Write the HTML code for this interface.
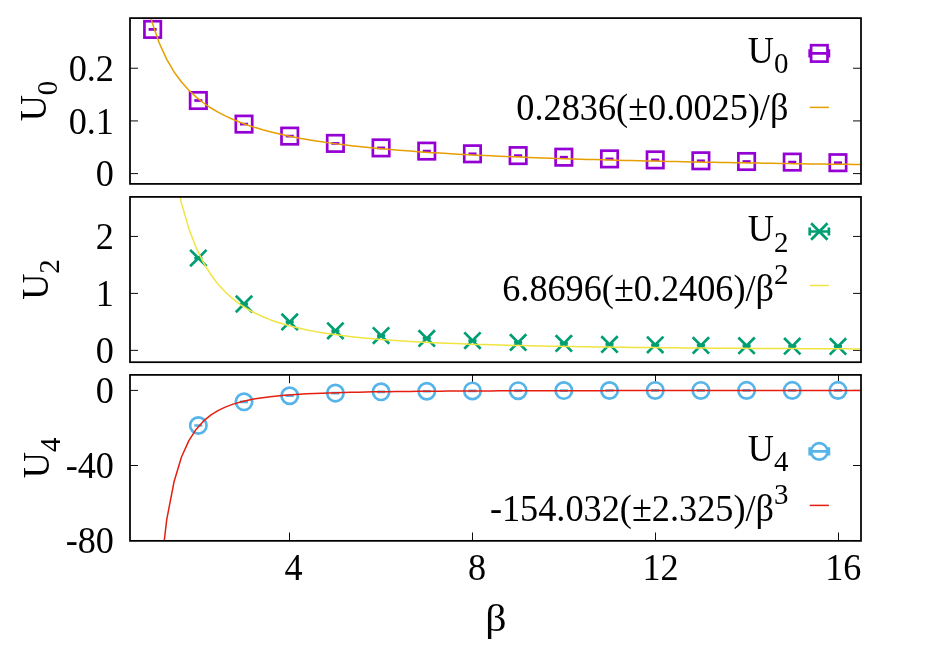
<!DOCTYPE html>
<html lang="en">
<head>
<meta charset="utf-8">
<title>U0, U2, U4 versus beta</title>
<style>
html,body{margin:0;padding:0;background:#fff;}
body{width:926px;height:649px;overflow:hidden;}
svg{display:block;will-change:transform;}
svg text{font-family:"Liberation Serif",serif;font-size:37.33px;fill:#000;}
svg text.s{font-size:29.87px;}
</style>
</head>
<body>
<svg width="926" height="649" viewBox="0 0 926 649">
<rect width="926" height="649" fill="#fff"/>
<defs>
<clipPath id="c0"><rect x="130.0" y="18.1" width="731.00" height="165.80"/></clipPath>
<clipPath id="c1"><rect x="130.0" y="196.9" width="731.00" height="165.30"/></clipPath>
<clipPath id="c2"><rect x="130.0" y="374.9" width="731.00" height="165.95"/></clipPath>
</defs>
<path d="M130.00 173.60h8.0M861.00 173.60h-8.0M130.00 120.92h8.0M861.00 120.92h-8.0M130.00 68.24h8.0M861.00 68.24h-8.0" stroke="#000" stroke-width="0.95" fill="none"/>
<g clip-path="url(#c0)">
<g fill="none" stroke="#9400d3" stroke-width="2.7">
<rect x="144.44" y="21.20" width="16.40" height="16.40"/><path d="M148.59 29.40H156.69"/>
<rect x="190.13" y="92.30" width="16.40" height="16.40"/><path d="M194.28 100.50H202.38"/>
<rect x="235.82" y="115.90" width="16.40" height="16.40"/><path d="M239.97 124.10H248.07"/>
<rect x="281.51" y="127.90" width="16.40" height="16.40"/><path d="M285.66 136.10H293.76"/>
<rect x="327.19" y="135.20" width="16.40" height="16.40"/><path d="M331.34 143.40H339.44"/>
<rect x="372.88" y="139.70" width="16.40" height="16.40"/><path d="M377.03 147.90H385.13"/>
<rect x="418.57" y="142.90" width="16.40" height="16.40"/><path d="M422.72 151.10H430.82"/>
<rect x="464.26" y="145.60" width="16.40" height="16.40"/><path d="M468.41 153.80H476.51"/>
<rect x="509.94" y="147.40" width="16.40" height="16.40"/><path d="M514.09 155.60H522.19"/>
<rect x="555.63" y="149.00" width="16.40" height="16.40"/><path d="M559.78 157.20H567.88"/>
<rect x="601.32" y="150.70" width="16.40" height="16.40"/><path d="M605.47 158.90H613.57"/>
<rect x="647.01" y="151.70" width="16.40" height="16.40"/><path d="M651.16 159.90H659.26"/>
<rect x="692.69" y="152.60" width="16.40" height="16.40"/><path d="M696.84 160.80H704.94"/>
<rect x="738.38" y="153.30" width="16.40" height="16.40"/><path d="M742.53 161.50H750.63"/>
<rect x="784.07" y="153.90" width="16.40" height="16.40"/><path d="M788.22 162.10H796.32"/>
<rect x="829.76" y="154.50" width="16.40" height="16.40"/><path d="M833.91 162.70H842.01"/>
</g>
<polyline points="129.80,-125.20 137.18,-52.21 144.57,-7.88 151.95,21.90 159.34,43.29 166.72,59.39 174.10,71.95 181.49,82.02 188.87,90.27 196.25,97.16 203.64,103.00 211.02,108.01 218.41,112.36 225.79,116.16 233.17,119.52 240.56,122.51 247.94,125.19 255.33,127.59 262.71,129.78 270.09,131.76 277.48,133.57 284.86,135.23 292.24,136.76 299.63,138.17 307.01,139.48 314.40,140.70 321.78,141.83 329.16,142.88 336.55,143.87 343.93,144.80 351.32,145.67 358.70,146.49 366.08,147.26 373.47,147.99 380.85,148.68 388.23,149.33 395.62,149.95 403.00,150.54 410.39,151.10 417.77,151.64 425.15,152.15 432.54,152.64 439.92,153.10 447.31,153.54 454.69,153.97 462.07,154.38 469.46,154.77 476.84,155.15 484.22,155.51 491.61,155.85 498.99,156.19 506.38,156.51 513.76,156.82 521.14,157.12 528.53,157.41 535.91,157.69 543.29,157.96 550.68,158.22 558.06,158.47 565.45,158.71 572.83,158.95 580.21,159.18 587.60,159.40 594.98,159.61 602.37,159.82 609.75,160.02 617.13,160.22 624.52,160.41 631.90,160.60 639.28,160.78 646.67,160.95 654.05,161.12 661.44,161.29 668.82,161.45 676.20,161.61 683.59,161.76 690.97,161.91 698.36,162.06 705.74,162.20 713.12,162.34 720.51,162.48 727.89,162.61 735.27,162.74 742.66,162.86 750.04,162.99 757.43,163.11 764.81,163.22 772.19,163.34 779.58,163.45 786.96,163.56 794.35,163.67 801.73,163.78 809.11,163.88 816.50,163.98 823.88,164.08 831.26,164.18 838.65,164.27 846.03,164.36 853.42,164.46 860.80,164.55" fill="none" stroke="#e69f00" stroke-width="1.5" stroke-linejoin="round"/>
</g>
<g fill="none" stroke="#9400d3" stroke-width="2.7"><rect x="811.10" y="45.20" width="16.40" height="16.40"/><path d="M809.70 53.40H828.90M809.70 49.35V57.45M828.90 49.35V57.45"/></g>
<path d="M809.7 107.40H828.9" stroke="#e69f00" stroke-width="1.5" fill="none"/>
<text transform="translate(774.00 62.50) scale(0.97 1)" text-anchor="end">U</text>
<text transform="translate(774.00 73.40) scale(0.97 1)" class="s">0</text>
<text transform="translate(788.40 120.05)" text-anchor="end" textLength="272.10" lengthAdjust="spacingAndGlyphs">0.2836(±0.0025)/β</text>
<text transform="translate(113.90 186.30) scale(0.97 1)" text-anchor="end">0</text>
<text transform="translate(113.90 133.62) scale(0.97 1)" text-anchor="end">0.1</text>
<text transform="translate(113.90 80.94) scale(0.97 1)" text-anchor="end">0.2</text>
<text transform="translate(46.00 121.30) rotate(-90) scale(0.97 1)">U</text>
<text transform="translate(56.80 95.16) rotate(-90) scale(0.97 1)" class="s">0</text>
<rect x="130.0" y="18.1" width="731.00" height="165.80" fill="none" stroke="#000" stroke-width="1.75"/>
<path d="M130.00 350.35h8.0M861.00 350.35h-8.0M130.00 293.40h8.0M861.00 293.40h-8.0M130.00 236.45h8.0M861.00 236.45h-8.0" stroke="#000" stroke-width="0.95" fill="none"/>
<g clip-path="url(#c1)">
<g fill="none" stroke="#009e73" stroke-width="2.7">
<path d="M190.13 249.90L206.53 266.30M190.13 266.30L206.53 249.90"/><path d="M194.28 258.10H202.38"/>
<path d="M235.82 295.80L252.22 312.20M235.82 312.20L252.22 295.80"/><path d="M239.97 304.00H248.07"/>
<path d="M281.51 313.75L297.91 330.15M281.51 330.15L297.91 313.75"/><path d="M285.66 321.95H293.76"/>
<path d="M327.19 322.60L343.59 339.00M327.19 339.00L343.59 322.60"/><path d="M331.34 330.80H339.44"/>
<path d="M372.88 327.35L389.28 343.75M372.88 343.75L389.28 327.35"/><path d="M377.03 335.55H385.13"/>
<path d="M418.57 330.20L434.97 346.60M418.57 346.60L434.97 330.20"/><path d="M422.72 338.40H430.82"/>
<path d="M464.26 332.40L480.66 348.80M464.26 348.80L480.66 332.40"/><path d="M468.41 340.60H476.51"/>
<path d="M509.94 334.20L526.34 350.60M509.94 350.60L526.34 334.20"/><path d="M514.09 342.40H522.19"/>
<path d="M555.63 335.20L572.03 351.60M555.63 351.60L572.03 335.20"/><path d="M559.78 343.40H567.88"/>
<path d="M601.32 336.20L617.72 352.60M601.32 352.60L617.72 336.20"/><path d="M605.47 344.40H613.57"/>
<path d="M647.01 336.65L663.41 353.05M647.01 353.05L663.41 336.65"/><path d="M651.16 344.85H659.26"/>
<path d="M692.69 337.20L709.09 353.60M692.69 353.60L709.09 337.20"/><path d="M696.84 345.40H704.94"/>
<path d="M738.38 337.50L754.78 353.90M738.38 353.90L754.78 337.50"/><path d="M742.53 345.70H750.63"/>
<path d="M784.07 337.95L800.47 354.35M784.07 354.35L800.47 337.95"/><path d="M788.22 346.15H796.32"/>
<path d="M829.76 338.25L846.16 354.65M829.76 354.65L846.16 338.25"/><path d="M833.91 346.45H842.01"/>
</g>
<polyline points="129.80,-1214.54 137.18,-543.39 144.57,-226.92 151.95,-53.00 159.34,52.70 166.72,121.71 174.10,169.23 181.49,203.34 188.87,228.65 196.25,247.94 203.64,262.99 211.02,274.94 218.41,284.61 225.79,292.52 233.17,299.09 240.56,304.60 247.94,309.27 255.33,313.25 262.71,316.69 270.09,319.67 277.48,322.27 284.86,324.55 292.24,326.56 299.63,328.35 307.01,329.95 314.40,331.37 321.78,332.65 329.16,333.81 336.55,334.86 343.93,335.81 351.32,336.67 358.70,337.46 366.08,338.19 373.47,338.85 380.85,339.46 388.23,340.03 395.62,340.55 403.00,341.03 410.39,341.48 417.77,341.90 425.15,342.28 432.54,342.65 439.92,342.98 447.31,343.30 454.69,343.60 462.07,343.87 469.46,344.14 476.84,344.38 484.22,344.61 491.61,344.83 498.99,345.04 506.38,345.23 513.76,345.42 521.14,345.59 528.53,345.76 535.91,345.91 543.29,346.06 550.68,346.20 558.06,346.34 565.45,346.47 572.83,346.59 580.21,346.70 587.60,346.82 594.98,346.92 602.37,347.02 609.75,347.12 617.13,347.21 624.52,347.30 631.90,347.39 639.28,347.47 646.67,347.55 654.05,347.62 661.44,347.69 668.82,347.76 676.20,347.83 683.59,347.89 690.97,347.96 698.36,348.02 705.74,348.07 713.12,348.13 720.51,348.18 727.89,348.23 735.27,348.28 742.66,348.33 750.04,348.38 757.43,348.42 764.81,348.46 772.19,348.50 779.58,348.54 786.96,348.58 794.35,348.62 801.73,348.66 809.11,348.69 816.50,348.73 823.88,348.76 831.26,348.79 838.65,348.82 846.03,348.85 853.42,348.88 860.80,348.91" fill="none" stroke="#f0e442" stroke-width="1.5" stroke-linejoin="round"/>
</g>
<g fill="none" stroke="#009e73" stroke-width="2.7"><path d="M811.10 223.30L827.50 239.70M811.10 239.70L827.50 223.30"/><path d="M809.70 231.50H828.90M809.70 227.45V235.55M828.90 227.45V235.55"/></g>
<path d="M809.7 285.50H828.9" stroke="#f0e442" stroke-width="1.5" fill="none"/>
<text transform="translate(774.00 240.60) scale(0.97 1)" text-anchor="end">U</text>
<text transform="translate(774.00 251.50) scale(0.97 1)" class="s">2</text>
<text transform="translate(774.00 301.40)" text-anchor="end" textLength="271.80" lengthAdjust="spacingAndGlyphs">6.8696(±0.2406)/β</text>
<text transform="translate(774.00 283.90) scale(0.97 1)" class="s">2</text>
<text transform="translate(113.90 363.05) scale(0.97 1)" text-anchor="end">0</text>
<text transform="translate(113.90 306.10) scale(0.97 1)" text-anchor="end">1</text>
<text transform="translate(113.90 249.15) scale(0.97 1)" text-anchor="end">2</text>
<text transform="translate(48.10 299.85) rotate(-90) scale(0.97 1)">U</text>
<text transform="translate(58.90 273.71) rotate(-90) scale(0.97 1)" class="s">2</text>
<rect x="130.0" y="196.9" width="731.00" height="165.30" fill="none" stroke="#000" stroke-width="1.75"/>
<path d="M130.00 390.40h8.0M861.00 390.40h-8.0M130.00 465.50h8.0M861.00 465.50h-8.0M130.00 540.60h8.0M861.00 540.60h-8.0M289.50 540.85v-8.35M289.50 374.90v8.35M472.50 540.85v-8.35M472.50 374.90v8.35M655.50 540.85v-8.35M655.50 374.90v8.35M838.50 540.85v-8.35M838.50 374.90v8.35" stroke="#000" stroke-width="0.95" fill="none"/>
<g clip-path="url(#c2)">
<g fill="none" stroke="#56b4e9" stroke-width="2.7">
<circle cx="198.33" cy="425.50" r="8.20"/><path d="M194.28 425.50H202.38"/>
<circle cx="244.02" cy="401.80" r="8.20"/><path d="M239.97 401.80H248.07"/>
<circle cx="289.71" cy="395.75" r="8.20"/><path d="M285.66 395.75H293.76"/>
<circle cx="335.39" cy="393.10" r="8.20"/><path d="M331.34 393.10H339.44"/>
<circle cx="381.08" cy="391.80" r="8.20"/><path d="M377.03 391.80H385.13"/>
<circle cx="426.77" cy="391.25" r="8.20"/><path d="M422.72 391.25H430.82"/>
<circle cx="472.46" cy="390.95" r="8.20"/><path d="M468.41 390.95H476.51"/>
<circle cx="518.14" cy="390.70" r="8.20"/><path d="M514.09 390.70H522.19"/>
<circle cx="563.83" cy="390.55" r="8.20"/><path d="M559.78 390.55H567.88"/>
<circle cx="609.52" cy="390.50" r="8.20"/><path d="M605.47 390.50H613.57"/>
<circle cx="655.21" cy="390.45" r="8.20"/><path d="M651.16 390.45H659.26"/>
<circle cx="700.89" cy="390.45" r="8.20"/><path d="M696.84 390.45H704.94"/>
<circle cx="746.58" cy="390.40" r="8.20"/><path d="M742.53 390.40H750.63"/>
<circle cx="792.27" cy="390.40" r="8.20"/><path d="M788.22 390.40H796.32"/>
<circle cx="837.96" cy="390.40" r="8.20"/><path d="M833.91 390.40H842.01"/>
</g>
<polyline points="129.80,2703.96 137.18,1388.96 144.57,908.75 151.95,693.15 159.34,582.31 166.72,519.61 174.10,481.50 181.49,457.02 188.87,440.58 196.25,429.13 203.64,420.92 211.02,414.87 218.41,410.32 225.79,406.83 233.17,404.12 240.56,401.97 247.94,400.24 255.33,398.84 262.71,397.70 270.09,396.75 277.48,395.96 284.86,395.30 292.24,394.74 299.63,394.26 307.01,393.84 314.40,393.49 321.78,393.18 329.16,392.91 336.55,392.68 343.93,392.47 351.32,392.29 358.70,392.13 366.08,391.99 373.47,391.86 380.85,391.74 388.23,391.64 395.62,391.55 403.00,391.46 410.39,391.39 417.77,391.32 425.15,391.26 432.54,391.20 439.92,391.15 447.31,391.10 454.69,391.06 462.07,391.02 469.46,390.98 476.84,390.94 484.22,390.91 491.61,390.88 498.99,390.86 506.38,390.83 513.76,390.81 521.14,390.79 528.53,390.77 535.91,390.75 543.29,390.73 550.68,390.72 558.06,390.70 565.45,390.69 572.83,390.67 580.21,390.66 587.60,390.65 594.98,390.64 602.37,390.63 609.75,390.62 617.13,390.61 624.52,390.60 631.90,390.59 639.28,390.58 646.67,390.58 654.05,390.57 661.44,390.56 668.82,390.56 676.20,390.55 683.59,390.54 690.97,390.54 698.36,390.53 705.74,390.53 713.12,390.52 720.51,390.52 727.89,390.52 735.27,390.51 742.66,390.51 750.04,390.50 757.43,390.50 764.81,390.50 772.19,390.49 779.58,390.49 786.96,390.49 794.35,390.48 801.73,390.48 809.11,390.48 816.50,390.48 823.88,390.47 831.26,390.47 838.65,390.47 846.03,390.47 853.42,390.47 860.80,390.46" fill="none" stroke="#e51e10" stroke-width="1.5" stroke-linejoin="round"/>
</g>
<g fill="none" stroke="#56b4e9" stroke-width="2.7"><circle cx="819.30" cy="451.40" r="8.20"/><path d="M809.70 451.40H828.90M809.70 447.35V455.45M828.90 447.35V455.45"/></g>
<path d="M809.7 505.40H828.9" stroke="#e51e10" stroke-width="1.5" fill="none"/>
<text transform="translate(774.00 460.50) scale(0.97 1)" text-anchor="end">U</text>
<text transform="translate(774.00 471.40) scale(0.97 1)" class="s">4</text>
<text transform="translate(774.00 521.30)" text-anchor="end" textLength="284.10" lengthAdjust="spacingAndGlyphs">-154.032(±2.325)/β</text>
<text transform="translate(774.00 503.80) scale(0.97 1)" class="s">3</text>
<text transform="translate(113.90 403.10) scale(0.97 1)" text-anchor="end">0</text>
<text transform="translate(113.90 478.20) scale(0.97 1)" text-anchor="end">-40</text>
<text transform="translate(113.90 553.30) scale(0.97 1)" text-anchor="end">-80</text>
<text transform="translate(48.80 478.18) rotate(-90) scale(0.97 1)">U</text>
<text transform="translate(59.60 452.03) rotate(-90) scale(0.97 1)" class="s">4</text>
<rect x="130.0" y="374.9" width="731.00" height="165.95" fill="none" stroke="#000" stroke-width="1.75"/>
<text transform="translate(293.61 580.20) scale(0.97 1)" text-anchor="middle">4</text>
<text transform="translate(477.06 580.20) scale(0.97 1)" text-anchor="middle">8</text>
<text transform="translate(660.61 580.20) scale(0.97 1)" text-anchor="middle">12</text>
<text transform="translate(843.26 580.20) scale(0.97 1)" text-anchor="middle">16</text>
<text transform="translate(495.9 630.5) scale(1.12 1)" text-anchor="middle">β</text>
</svg>
</body>
</html>
